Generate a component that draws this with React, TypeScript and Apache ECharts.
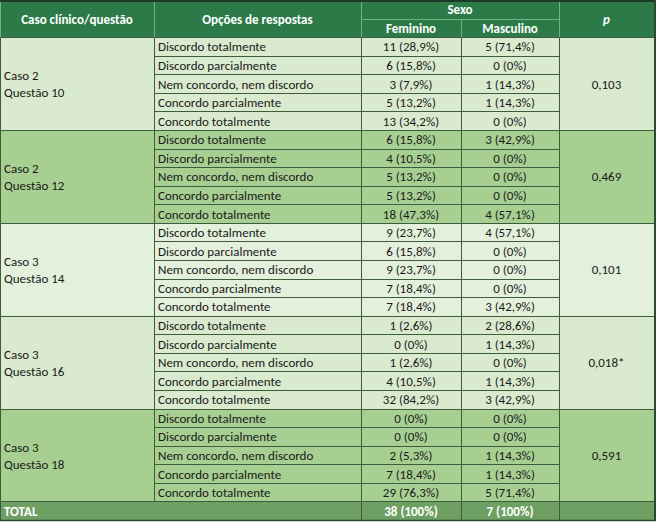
import React, { useEffect, useRef } from "react";
import * as echarts from "echarts";

// ---------- data ----------
const groupLabels = [
  "Caso 2\nQuestão 10",
  "Caso 2\nQuestão 12",
  "Caso 3\nQuestão 14",
  "Caso 3\nQuestão 16",
  "Caso 3\nQuestão 18",
];
const answerOptions = [
  "Discordo totalmente",
  "Discordo parcialmente",
  "Nem concordo, nem discordo",
  "Concordo parcialmente",
  "Concordo totalmente",
];
const femCount = [
  [11, 6, 3, 5, 13],
  [6, 4, 5, 5, 18],
  [9, 6, 9, 7, 7],
  [1, 0, 1, 4, 32],
  [0, 0, 2, 7, 29],
];
const femPct = [
  [28.9, 15.8, 7.9, 13.2, 34.2],
  [15.8, 10.5, 13.2, 13.2, 47.3],
  [23.7, 15.8, 23.7, 18.4, 18.4],
  [2.6, 0, 2.6, 10.5, 84.2],
  [0, 0, 5.3, 18.4, 76.3],
];
const mascCount = [
  [5, 0, 1, 1, 0],
  [3, 0, 0, 0, 4],
  [4, 0, 0, 0, 3],
  [2, 1, 0, 1, 3],
  [0, 0, 1, 1, 5],
];
const mascPct = [
  [71.4, 0, 14.3, 14.3, 0],
  [42.9, 0, 0, 0, 57.1],
  [57.1, 0, 0, 0, 42.9],
  [28.6, 14.3, 0, 14.3, 42.9],
  [0, 0, 14.3, 14.3, 71.4],
];
const pValues = ["0,103", "0,469", "0,101", "0,018*", "0,591"];
const totalFem = [38, 100];
const totalMasc = [7, 100];
const headerTexts = ["Caso clínico/questão", "Opções de respostas", "Sexo", "Feminino", "Masculino", "p"];
const totalLabel = "TOTAL";

// ---------- layout / style ----------
const COLS = [0, 154, 361, 461, 559, 654];
const HEADER_BG = "#2b7a47";
const HEADER_LINE = "#72b184";
const BODY_LINE = "#3d5b3d";
const TOTAL_BG = "#6e9f63";
const GROUP_BG = ["#d9eace", "#a7cf92", "#e3f0db", "#d9eace", "#a7cf92"];
const FONT = "Carlito, Lato, sans-serif";

function fmt(n: number, pct: number) {
  const p = Number.isInteger(pct) ? String(pct) : pct.toFixed(1).replace(".", ",");
  return `${n} (${p}%)`;
}

type Cell = {
  x0: number; x1: number; r0: number; r1: number;
  text: string; kind: "head" | "body" | "total";
  align: "left" | "center"; bg: string; italic?: boolean;
};

function buildCells(): Cell[] {
  const cells: Cell[] = [];
  const h = (x0: number, x1: number, r0: number, r1: number, text: string, italic = false) =>
    cells.push({ x0, x1, r0, r1, text, kind: "head", align: "center", bg: HEADER_BG, italic });
  h(COLS[0], COLS[1], 0, 2, headerTexts[0]);
  h(COLS[1], COLS[2], 0, 2, headerTexts[1]);
  h(COLS[2], COLS[4], 0, 1, headerTexts[2]);
  h(COLS[2], COLS[3], 1, 2, headerTexts[3]);
  h(COLS[3], COLS[4], 1, 2, headerTexts[4]);
  h(COLS[4], COLS[5], 0, 2, headerTexts[5], true);
  groupLabels.forEach((lab, g) => {
    const base = 2 + g * answerOptions.length;
    const bg = GROUP_BG[g];
    cells.push({ x0: COLS[0], x1: COLS[1], r0: base, r1: base + answerOptions.length, text: lab, kind: "body", align: "left", bg });
    answerOptions.forEach((opt, i) => {
      const r = base + i;
      cells.push({ x0: COLS[1], x1: COLS[2], r0: r, r1: r + 1, text: opt, kind: "body", align: "left", bg });
      cells.push({ x0: COLS[2], x1: COLS[3], r0: r, r1: r + 1, text: fmt(femCount[g][i], femPct[g][i]), kind: "body", align: "center", bg });
      cells.push({ x0: COLS[3], x1: COLS[4], r0: r, r1: r + 1, text: fmt(mascCount[g][i], mascPct[g][i]), kind: "body", align: "center", bg });
    });
    cells.push({ x0: COLS[4], x1: COLS[5], r0: base, r1: base + answerOptions.length, text: pValues[g], kind: "body", align: "center", bg });
  });
  const tr = 2 + groupLabels.length * answerOptions.length;
  cells.push({ x0: COLS[0], x1: COLS[2], r0: tr, r1: tr + 1, text: totalLabel, kind: "total", align: "left", bg: TOTAL_BG });
  cells.push({ x0: COLS[2], x1: COLS[3], r0: tr, r1: tr + 1, text: fmt(totalFem[0], totalFem[1]), kind: "total", align: "center", bg: TOTAL_BG });
  cells.push({ x0: COLS[3], x1: COLS[4], r0: tr, r1: tr + 1, text: fmt(totalMasc[0], totalMasc[1]), kind: "total", align: "center", bg: TOTAL_BG });
  cells.push({ x0: COLS[4], x1: COLS[5], r0: tr, r1: tr + 1, text: "", kind: "total", align: "center", bg: TOTAL_BG });
  return cells;
}

export default function App() {
  const ref = useRef<HTMLDivElement>(null);
  useEffect(() => {
    document.body.style.margin = "0";
    if (!ref.current) return;
    const chart = echarts.init(ref.current, undefined, { renderer: "svg" });
    const cells = buildCells();
    const totalRows = 2 + groupLabels.length * answerOptions.length + 1;
    const snap = (v: number) => Math.round(v) + 0.5;
    chart.setOption({
      animation: false,
      backgroundColor: "#ffffff",
      grid: { left: 0, top: 0, width: COLS[5], height: 520, containLabel: false },
      xAxis: { type: "value", min: COLS[0], max: COLS[5], show: false },
      yAxis: { type: "value", min: 0, max: totalRows, inverse: true, show: false },
      series: [
        {
          type: "custom",
          clip: false,
          encode: { x: [0, 2], y: [1, 3] },
          data: cells.map((c) => [c.x0, c.r0, c.x1, c.r1]),
          renderItem: (params: any, api: any) => {
            const c = cells[params.dataIndex];
            const p0 = api.coord([c.x0, c.r0]);
            const p1 = api.coord([c.x1, c.r1]);
            const x = snap(p0[0]);
            const y = snap(p0[1]);
            const w = snap(p1[0]) - x;
            const hh = snap(p1[1]) - y;
            const isHead = c.kind === "head";
            const white = c.kind !== "body";
            const tx = c.align === "left" ? p0[0] + 4 : (p0[0] + p1[0]) / 2;
            const ty = (p0[1] + p1[1]) / 2 + 0.5;
            return {
              type: "group",
              children: [
                {
                  type: "rect",
                  shape: { x, y, width: w, height: hh },
                  style: { fill: c.bg, stroke: isHead ? HEADER_LINE : BODY_LINE, lineWidth: 1 },
                  z2: isHead ? 1 : 2,
                },
                {
                  type: "text",
                  z2: 5,
                  style: {
                    text: c.text,
                    x: tx,
                    y: ty,
                    align: c.align,
                    verticalAlign: "middle",
                    fill: white ? "#ffffff" : "#1a1a1a",
                    fontFamily: FONT,
                    fontSize: 13,
                    fontWeight: white ? "bold" : "normal",
                    fontStyle: c.italic ? "italic" : "normal",
                    lineHeight: 17,
                  },
                },
              ],
            };
          },
        },
      ],
      graphic: [
        { type: "line", shape: { x1: 0, y1: 1, x2: 656, y2: 1 }, style: { stroke: "#1d3b27", lineWidth: 2 }, z: 10 },
        { type: "line", shape: { x1: 655, y1: 0, x2: 655, y2: 521 }, style: { stroke: "#2c4a30", lineWidth: 2 }, z: 10 },
        { type: "line", shape: { x1: 0, y1: 520.5, x2: 656, y2: 520.5 }, style: { stroke: "#2c4a30", lineWidth: 1.5 }, z: 10 },
      ],
    });
    return () => chart.dispose();
  }, []);
  return <div ref={ref} style={{ width: 658, height: 524 }} />;
}
